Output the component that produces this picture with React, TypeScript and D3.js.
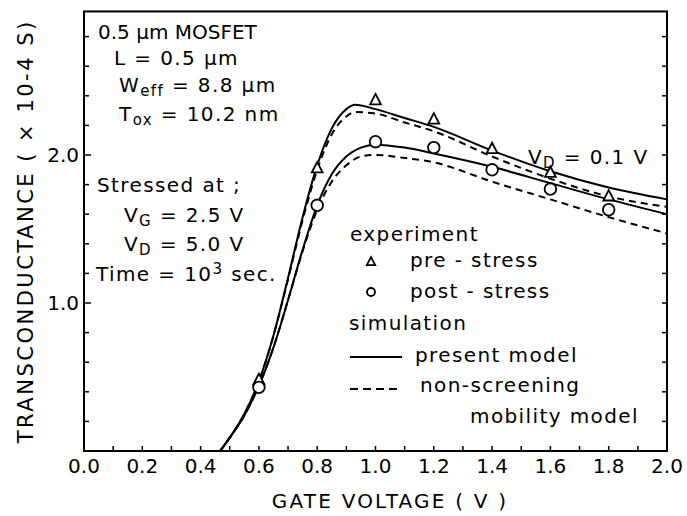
import React from 'react';
import * as d3 from 'd3';

// experiment points
const measV = [0.6, 0.8, 1.0, 1.2, 1.4, 1.6, 1.8];
const preStress = [0.48, 1.91, 2.37, 2.24, 2.04, 1.88, 1.72];
const postStress = [0.43, 1.66, 2.09, 2.05, 1.9, 1.77, 1.63];

// simulation curves
const simVPre = [0.467, 0.5, 0.55, 0.6, 0.65, 0.7, 0.75, 0.8, 0.85, 0.9, 0.93, 1.0, 1.1, 1.2, 1.4, 1.6, 1.8, 2.0];
const presentPre = [0, 0.09, 0.25, 0.47, 0.78, 1.17, 1.58, 1.93, 2.18, 2.31, 2.34, 2.31, 2.25, 2.19, 2.03, 1.89, 1.78, 1.7];
const nonScreenPre = [0, 0.09, 0.25, 0.47, 0.78, 1.16, 1.56, 1.9, 2.14, 2.26, 2.29, 2.28, 2.22, 2.16, 1.99, 1.84, 1.72, 1.65];
const simVPost = [0.467, 0.5, 0.55, 0.6, 0.65, 0.7, 0.75, 0.8, 0.85, 0.9, 0.95, 1.0, 1.1, 1.2, 1.4, 1.6, 1.8, 2.0];
const presentPost = [0, 0.09, 0.24, 0.44, 0.7, 1.02, 1.36, 1.66, 1.87, 1.99, 2.05, 2.07, 2.05, 2.01, 1.92, 1.81, 1.7, 1.6];
const nonScreenPost = [0, 0.09, 0.24, 0.44, 0.7, 1.02, 1.35, 1.63, 1.82, 1.93, 1.99, 2.0, 1.98, 1.95, 1.82, 1.7, 1.58, 1.47];

const xTickLabels = ['0.0', '0.2', '0.4', '0.6', '0.8', '1.0', '1.2', '1.4', '1.6', '1.8', '2.0'];
const yTickLabels = ['1.0', '2.0'];

const W = 687;
const H = 516;
const FONT = 'DejaVu Sans, sans-serif';

export default function App() {
  const x = d3.scaleLinear().domain([0, 2]).range([84, 667]);
  const y = d3.scaleLinear().domain([0, 2]).range([451, 155]);
  const yTop = 2.97;

  const line = d3.line<[number, number]>()
    .x(d => x(d[0]))
    .y(d => y(d[1]))
    .curve(d3.curveMonotoneX);

  const zip = (xs: number[], ys: number[]) => xs.map((v, i) => [v, ys[i]] as [number, number]);

  const xMinor = d3.range(1, 20).map(i => i / 10);
  const yMinor = d3.range(1, 15).map(i => i / 5);

  const tri = (cx: number, cy: number, s: number) =>
    `M${cx},${cy - s * 0.7}L${cx + s * 0.6},${cy + s * 0.45}L${cx - s * 0.6},${cy + s * 0.45}Z`;

  const tick = { fontFamily: FONT, fontSize: 20, fill: '#000' };
  const label = { fontFamily: FONT, fontSize: 20, fill: '#000', letterSpacing: 1.4 };
  const sub = 15;

  return (
    <svg width={W} height={H} style={{ position: 'absolute', left: 0, top: 0, background: '#fff' }}>
      <rect width={W} height={H} fill="#fff" />
      {/* frame */}
      <rect x={x(0)} y={y(yTop)} width={x(2) - x(0)} height={y(0) - y(yTop)} fill="none" stroke="#000" strokeWidth={2} />

      {/* ticks */}
      {xMinor.map(v => (
        <line key={'xt' + v} x1={x(v)} x2={x(v)} y1={y(0)} y2={y(0) - 5} stroke="#000" strokeWidth={1.5} />
      ))}
      {yMinor.map(v => (
        <g key={'yt' + v}>
          <line x1={x(0)} x2={x(0) + (v % 1 === 0 ? 7 : 5)} y1={y(v)} y2={y(v)} stroke="#000" strokeWidth={1.5} />
          <line x1={x(2)} x2={x(2) - 5} y1={y(v)} y2={y(v)} stroke="#000" strokeWidth={1.5} />
        </g>
      ))}

      {/* tick labels */}
      {xTickLabels.map(t => (
        <text key={'xl' + t} x={x(+t)} y={y(0) + 22} textAnchor="middle" style={tick}>{t}</text>
      ))}
      {yTickLabels.map(t => (
        <text key={'yl' + t} x={x(0) - 5} y={y(+t) + 7} textAnchor="end" style={tick}>{t}</text>
      ))}

      {/* axis titles */}
      <text x={390} y={508} textAnchor="middle" style={{ ...label, letterSpacing: 2.2 }}>GATE VOLTAGE ( V )</text>
      <text transform={`translate(33,${(y(0) + y(yTop)) / 2}) rotate(-90)`} textAnchor="middle" style={{ ...label, fontSize: 21, letterSpacing: 2.5 }}>
        TRANSCONDUCTANCE ( × 10-4 S)
      </text>

      {/* simulation curves */}
      <path d={line(zip(simVPre, presentPre)) || ''} fill="none" stroke="#000" strokeWidth={2} />
      <path d={line(zip(simVPre, nonScreenPre)) || ''} fill="none" stroke="#000" strokeWidth={2} strokeDasharray="7,5" />
      <path d={line(zip(simVPost, presentPost)) || ''} fill="none" stroke="#000" strokeWidth={2} />
      <path d={line(zip(simVPost, nonScreenPost)) || ''} fill="none" stroke="#000" strokeWidth={2} strokeDasharray="7,5" />

      {/* experiment markers */}
      {measV.map((v, i) => (
        <path key={'pre' + v} d={tri(x(v), y(preStress[i]), 9)} fill="#fff" stroke="#000" strokeWidth={1.8} />
      ))}
      {measV.map((v, i) => (
        <circle key={'post' + v} cx={x(v)} cy={y(postStress[i])} r={5.8} fill="#fff" stroke="#000" strokeWidth={1.8} />
      ))}

      {/* annotations */}
      <g style={label}>
        <text x={98} y={39} style={{ letterSpacing: 0 }}>0.5 µm MOSFET</text>
        <text x={114} y={65}>L = 0.5 µm</text>
        <text x={119} y={92}>W<tspan dy={4} fontSize={sub}>eff</tspan><tspan dy={-4}> = 8.8 µm</tspan></text>
        <text x={119} y={121}>T<tspan dy={4} fontSize={sub}>ox</tspan><tspan dy={-4}> = 10.2 nm</tspan></text>
        <text x={97} y={192}>Stressed at ;</text>
        <text x={124} y={222}>V<tspan dy={4} fontSize={sub}>G</tspan><tspan dy={-4}> = 2.5 V</tspan></text>
        <text x={124} y={251}>V<tspan dy={4} fontSize={sub}>D</tspan><tspan dy={-4}> = 5.0 V</tspan></text>
        <text x={96} y={281}>Time = 10<tspan dy={-7} fontSize={sub}>3</tspan><tspan dy={7}> sec.</tspan></text>
        <text x={528} y={164}>V<tspan dy={4} fontSize={sub}>D</tspan><tspan dy={-4}> = 0.1 V</tspan></text>
      </g>

      {/* legend */}
      <g style={label}>
        <text x={350} y={241}>experiment</text>
        <path d={tri(371, 262, 7)} fill="#fff" stroke="#000" strokeWidth={1.8} />
        <text x={410} y={267}>pre - stress</text>
        <circle cx={371} cy={292} r={4} fill="#fff" stroke="#000" strokeWidth={1.8} />
        <text x={410} y={298}>post - stress</text>
        <text x={349} y={330}>simulation</text>
        <line x1={350} x2={402} y1={357} y2={357} stroke="#000" strokeWidth={2} />
        <text x={415} y={362}>present model</text>
        <line x1={350} x2={402} y1={389} y2={389} stroke="#000" strokeWidth={2} strokeDasharray="8,5" />
        <text x={420} y={392}>non-screening</text>
        <text x={470} y={423}>mobility model</text>
      </g>
    </svg>
  );
}
